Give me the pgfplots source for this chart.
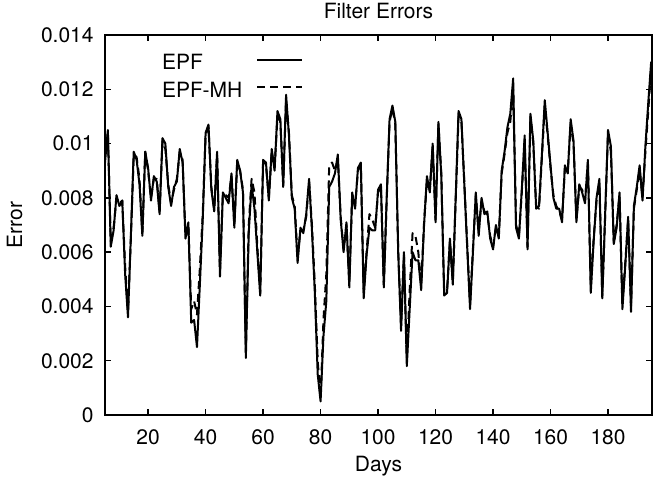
\documentclass[border=0pt]{standalone}
\usepackage{fontspec}
\setmainfont{TeX Gyre Heros}
\usepackage{pgfplots}
\pgfplotsset{compat=1.18}
\usepackage{pgfplotstable}

% day, EPF error, EPF-MH error
\pgfplotstableread{
day epf mh
5 0.0093 0.0096
6 0.0105 0.0104
7 0.0062 0.0064
8 0.0068 0.0069
9 0.0081 0.0080
10 0.0077 0.0078
11 0.0079 0.0079
12 0.0052 0.0055
13 0.0036 0.0038
14 0.0066 0.0065
15 0.0097 0.0096
16 0.0094 0.0095
17 0.0085 0.0087
18 0.0066 0.0067
19 0.0097 0.0097
20 0.0091 0.0090
21 0.0079 0.0080
22 0.0088 0.0087
23 0.0086 0.0087
24 0.0074 0.0075
25 0.0102 0.0101
26 0.0100 0.0098
27 0.0084 0.0085
28 0.0077 0.0078
29 0.0084 0.0083
30 0.0086 0.0087
31 0.0098 0.0097
32 0.0093 0.0094
33 0.0065 0.0066
34 0.0071 0.0070
35 0.0034 0.0039
36 0.0035 0.0042
37 0.0025 0.0037
38 0.0048 0.0054
39 0.0072 0.0074
40 0.0104 0.0103
41 0.0107 0.0106
42 0.0083 0.0084
43 0.0075 0.0076
44 0.0097 0.0096
45 0.0051 0.0053
46 0.0082 0.0081
47 0.0080 0.0081
48 0.0078 0.0080
49 0.0089 0.0088
50 0.0069 0.0070
51 0.0094 0.0093
52 0.0090 0.0090
53 0.0082 0.0083
54 0.0021 0.0023
55 0.0067 0.0070
56 0.0085 0.0087
57 0.0076 0.0082
58 0.0060 0.0062
59 0.0044 0.0045
60 0.0094 0.0093
61 0.0093 0.0092
62 0.0079 0.0080
63 0.0098 0.0097
64 0.0090 0.0091
65 0.0112 0.0110
66 0.0109 0.0108
67 0.0084 0.0085
68 0.0118 0.0116
69 0.0103 0.0104
70 0.0080 0.0081
71 0.0076 0.0077
72 0.0056 0.0058
73 0.0069 0.0068
74 0.0067 0.0068
75 0.0074 0.0073
76 0.0087 0.0086
77 0.0068 0.0070
78 0.0045 0.0048
79 0.0015 0.0020
80 0.0005 0.0006
81 0.0029 0.0035
82 0.0042 0.0052
83 0.0084 0.0092
84 0.0086 0.0093
85 0.0089 0.0090
86 0.0096 0.0094
87 0.0072 0.0073
88 0.0060 0.0061
89 0.0071 0.0070
90 0.0047 0.0049
91 0.0082 0.0081
92 0.0076 0.0077
93 0.0091 0.0090
94 0.0093 0.0092
95 0.0043 0.0045
96 0.0059 0.0060
97 0.0069 0.0074
98 0.0068 0.0072
99 0.0068 0.0069
100 0.0083 0.0082
101 0.0085 0.0084
102 0.0047 0.0048
103 0.0080 0.0079
104 0.0109 0.0108
105 0.0114 0.0113
106 0.0108 0.0107
107 0.0060 0.0061
108 0.0031 0.0033
109 0.0060 0.0059
110 0.0018 0.0021
111 0.0039 0.0046
112 0.0060 0.0067
113 0.0057 0.0066
114 0.0057 0.0060
115 0.0046 0.0048
116 0.0070 0.0071
117 0.0088 0.0086
118 0.0082 0.0083
119 0.0100 0.0099
120 0.0071 0.0072
121 0.0108 0.0107
122 0.0088 0.0089
123 0.0044 0.0045
124 0.0045 0.0046
125 0.0065 0.0064
126 0.0048 0.0049
127 0.0080 0.0079
128 0.0112 0.0110
129 0.0109 0.0108
130 0.0085 0.0086
131 0.0062 0.0063
132 0.0039 0.0041
133 0.0060 0.0061
134 0.0082 0.0081
135 0.0066 0.0068
136 0.0080 0.0079
137 0.0074 0.0075
138 0.0075 0.0074
139 0.0065 0.0066
140 0.0061 0.0062
141 0.0070 0.0069
142 0.0065 0.0066
143 0.0090 0.0089
144 0.0097 0.0096
145 0.0106 0.0104
146 0.0111 0.0108
147 0.0124 0.0120
148 0.0069 0.0070
149 0.0065 0.0066
150 0.0083 0.0082
151 0.0103 0.0101
152 0.0061 0.0062
153 0.0111 0.0110
154 0.0101 0.0100
155 0.0076 0.0077
156 0.0077 0.0076
157 0.0096 0.0095
158 0.0116 0.0114
159 0.0104 0.0103
160 0.0092 0.0091
161 0.0080 0.0081
162 0.0076 0.0077
163 0.0076 0.0075
164 0.0071 0.0072
165 0.0092 0.0091
166 0.0089 0.0090
167 0.0109 0.0107
168 0.0101 0.0100
169 0.0071 0.0072
170 0.0085 0.0084
171 0.0082 0.0083
172 0.0078 0.0079
173 0.0094 0.0093
174 0.0045 0.0047
175 0.0064 0.0065
176 0.0080 0.0079
177 0.0087 0.0085
178 0.0043 0.0044
179 0.0074 0.0073
180 0.0105 0.0104
181 0.0099 0.0097
182 0.0063 0.0064
183 0.0069 0.0070
184 0.0082 0.0081
185 0.0039 0.0041
186 0.0055 0.0056
187 0.0073 0.0072
188 0.0038 0.0040
189 0.0077 0.0076
190 0.0084 0.0083
191 0.0092 0.0090
192 0.0079 0.0080
193 0.0099 0.0097
194 0.0115 0.0112
195 0.0130 0.0128
196 0.0100 0.0098
}\errtable

\begin{document}
\fontsize{10.5}{12.6}\selectfont
\begin{tikzpicture}
\begin{axis}[
  scale only axis,
  width=273.5pt, height=190pt,
  xmin=5, xmax=195.3,
  ymin=0, ymax=0.014,
  xtick={20,40,...,180},
  ytick={0,0.002,0.004,0.006,0.008,0.01,0.012,0.014},
  scaled y ticks=false,
  /pgf/number format/.cd, fixed, precision=3, assume math mode=true,
  /pgfplots/.cd,
  tick align=inside,
  major tick length=3pt,
  axis line style={line width=0.75pt},
  every tick/.style={black, line width=0.75pt},
  yticklabel style={xshift=-2pt},
  xticklabel style={yshift=-3.5pt},
  every axis title shift=0pt,
  title={Filter Errors},
  title style={at={(axis description cs:0.5,1.062)}, anchor=center, inner sep=0pt},
  xlabel={Days},
  xlabel style={at={(axis description cs:0.5,-0.134)}, anchor=center, inner sep=0pt},
  ylabel={Error},
  ylabel style={at={(axis description cs:-0.165,0.5)}, anchor=center, inner sep=0pt},
  legend cell align=left,
  legend plot pos=right,
  legend image code/.code={\path (0pt,-2pt) (28.5pt,4pt); \draw[#1] (6pt,2pt) -- (28.5pt,2pt);},
  legend style={draw=none, fill=none, at={(axis description cs:0.1,0.955)},
    anchor=north west, inner sep=0pt, row sep=2.5pt,
    nodes={inner sep=1pt}},
]
\addplot[black, line width=1pt, line join=round] table[x=day, y=epf] {\errtable};
\addlegendentry{EPF}
\addplot[black, line width=1pt, line join=round, dash pattern=on 4pt off 2.5pt] table[x=day, y=mh] {\errtable};
\addlegendentry{EPF-MH}
\end{axis}
\path (-52.5pt,-33.5pt) rectangle (274pt,207.5pt);
\end{tikzpicture}
\end{document}
